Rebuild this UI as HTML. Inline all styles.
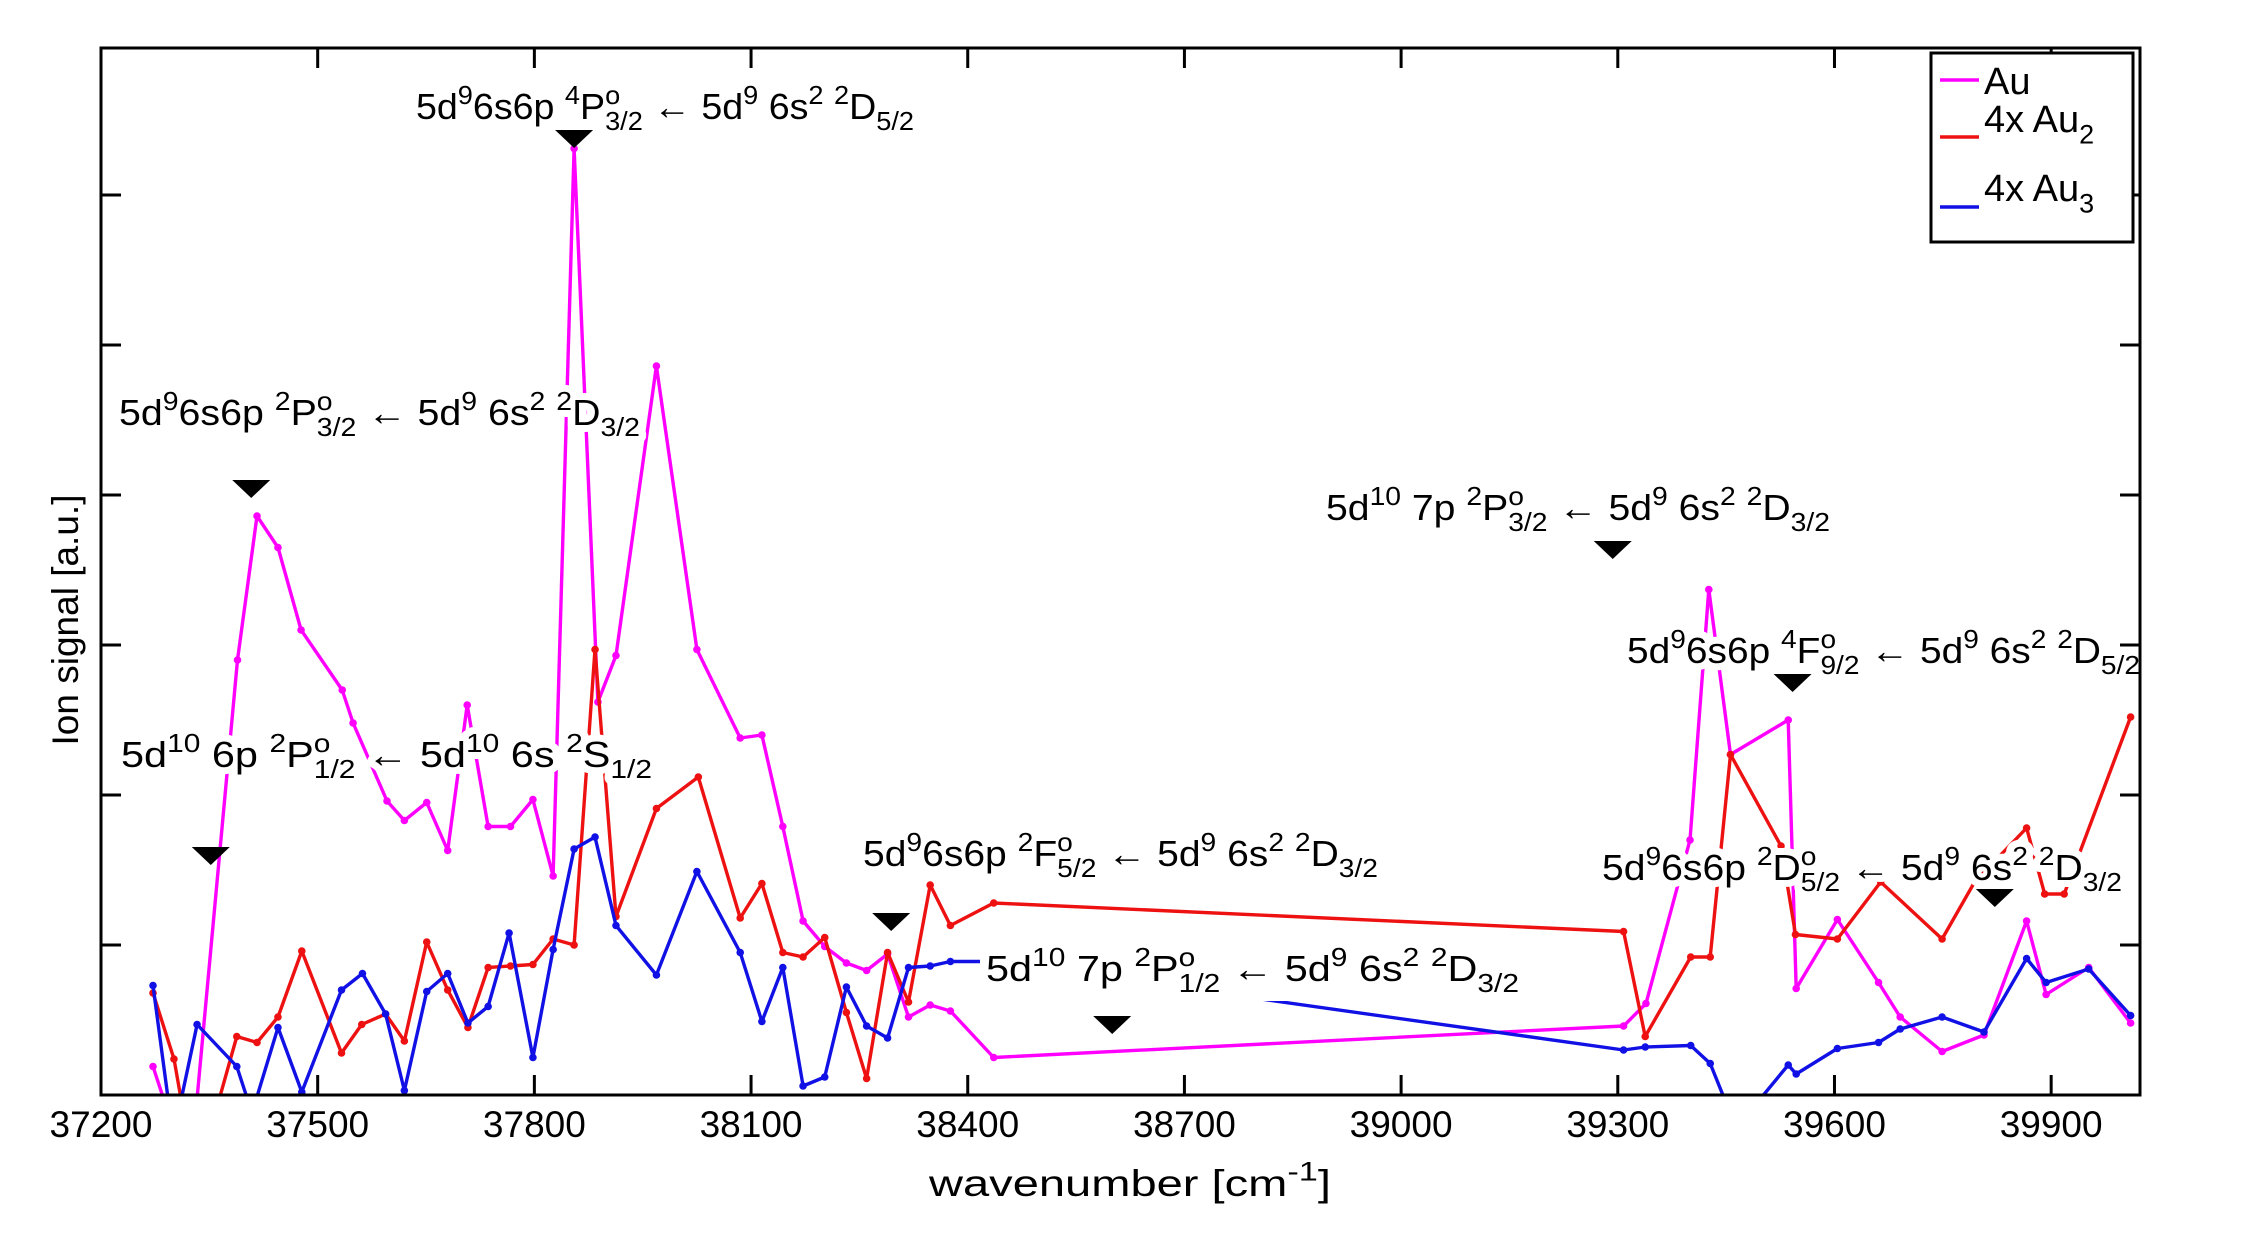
<!DOCTYPE html>
<html><head><meta charset="utf-8">
<style>
html,body{margin:0;padding:0;background:#fff;}
svg{display:block;font-family:"Liberation Sans",Arial,sans-serif;}
</style></head>
<body>
<svg id="chart" width="2259" height="1246" viewBox="0 0 2259 1246" xmlns="http://www.w3.org/2000/svg">
<defs><clipPath id="plotclip"><rect x="101" y="48" width="2039" height="1047"/></clipPath></defs>
<rect width="2259" height="1246" fill="#fff"/>
<g id="series" clip-path="url(#plotclip)"></g>
<g id="annots"></g>
<g id="axes"></g>
<g id="legend"></g>
</svg>
<script>
const xTicks = [37200, 37500, 37800, 38100, 38400, 38700, 39000, 39300, 39600, 39900];
const yTicks = [1, 2, 3, 4, 5, 6];

const auX = [37272,37300,37325,37389,37416,37445,37477,37534,37549,37596,37620,37651,37680,37707,37736,37767,37798,37826,37855,37888,37913,37969,38025,38085,38115,38144,38172,38202,38232,38260,38289,38318,38348,38376,38436,39308,39339,39400,39426,39456,39536,39547,39604,39661,39691,39749,39807,39866,39893,39952,40010];
const auY = [0.19,-0.22,-0.44,2.90,3.86,3.65,3.10,2.70,2.48,1.96,1.83,1.95,1.63,2.60,1.79,1.79,1.97,1.46,6.31,2.62,2.93,4.86,2.97,2.38,2.40,1.79,1.16,0.99,0.88,0.83,0.94,0.52,0.60,0.56,0.25,0.46,0.61,1.70,3.37,2.27,2.50,0.71,1.17,0.75,0.52,0.29,0.40,1.16,0.67,0.85,0.48];

const au2X = [37272,37301,37318,37349,37388,37416,37445,37478,37533,37561,37594,37620,37651,37680,37708,37736,37767,37798,37826,37855,37884,37913,37969,38027,38085,38115,38144,38172,38202,38232,38260,38289,38318,38348,38376,38436,39308,39338,39401,39428,39456,39526,39546,39604,39664,39749,39794,39866,39891,39918,40010];
const au2Y = [0.68,0.24,-0.22,-0.28,0.39,0.35,0.52,0.96,0.28,0.47,0.54,0.36,1.02,0.70,0.45,0.85,0.86,0.87,1.04,1.00,2.97,1.19,1.91,2.12,1.18,1.41,0.95,0.92,1.05,0.55,0.11,0.95,0.62,1.40,1.13,1.28,1.09,0.39,0.92,0.92,2.27,1.66,1.07,1.04,1.42,1.04,1.42,1.78,1.34,1.34,2.52];

const au3X = [37272,37300,37333,37388,37409,37445,37478,37533,37562,37594,37620,37651,37680,37708,37736,37765,37798,37826,37855,37884,37913,37969,38025,38085,38115,38144,38172,38202,38232,38260,38289,38318,38348,38376,38436,39308,39338,39401,39428,39464,39536,39547,39604,39661,39691,39749,39807,39866,39893,39952,40010];
const au3Y = [0.73,-0.28,0.47,0.19,-0.12,0.45,0.02,0.70,0.81,0.54,0.03,0.69,0.81,0.48,0.59,1.08,0.25,0.97,1.64,1.72,1.13,0.80,1.49,0.95,0.49,0.85,0.06,0.12,0.72,0.46,0.38,0.85,0.86,0.89,0.89,0.30,0.32,0.33,0.21,-0.22,0.20,0.14,0.31,0.35,0.44,0.52,0.42,0.91,0.75,0.84,0.53];

const markerX = [37855, 37408, 37352, 38294, 38600, 39293, 39542, 39822];
const markerPy = [139, 489, 856, 922, 1025, 550, 683, 898];

const annText = [
 "5d^{9}6s6p ^{4}P^{o}_{3/2} ← 5d^{9} 6s^{2} ^{2}D_{5/2}",
 "5d^{9}6s6p ^{2}P^{o}_{3/2} ← 5d^{9} 6s^{2} ^{2}D_{3/2}",
 "5d^{10} 6p ^{2}P^{o}_{1/2} ← 5d^{10} 6s ^{2}S_{1/2}",
 "5d^{9}6s6p ^{2}F^{o}_{5/2} ← 5d^{9} 6s^{2} ^{2}D_{3/2}",
 "5d^{10} 7p ^{2}P^{o}_{1/2} ← 5d^{9} 6s^{2} ^{2}D_{3/2}",
 "5d^{10} 7p ^{2}P^{o}_{3/2} ← 5d^{9} 6s^{2} ^{2}D_{3/2}",
 "5d^{9}6s6p ^{4}F^{o}_{9/2} ← 5d^{9} 6s^{2} ^{2}D_{5/2}",
 "5d^{9}6s6p ^{2}D^{o}_{5/2} ← 5d^{9} 6s^{2} ^{2}D_{3/2}"
];
const annPos = [[416,119,498],[119,425,521],[121,767,531],[863,866,515],[986,981,533],[1326,520,504],[1627,663,513],[1602,880,520]];
const annBox = [false,false,false,false,true,false,false,false];

const ns = "http://www.w3.org/2000/svg";
const L = 101, R = 2140, T = 48, B = 1095;
const xMin = 37200, xMax = 40023, yMin = 0, yMax = 6.98;
function sx(v){ return L + (v - xMin) / (xMax - xMin) * (R - L); }
function sy(v){ return B - (v - yMin) / (yMax - yMin) * (B - T); }
function mk(tag, attrs, parent){ const e = document.createElementNS(ns, tag); for (const k in attrs) e.setAttribute(k, attrs[k]); parent.appendChild(e); return e; }

const series = document.getElementById('series');
function drawSeries(xs, ys, color, name){
  const g = mk('g', {}, series);
  
  
  const pts = xs.map((x, i) => sx(x).toFixed(1) + ',' + sy(ys[i]).toFixed(1)).join(' ');
  const pl = mk('polyline', {points: pts, fill: 'none', stroke: color, 'stroke-width': 3.4, 'stroke-linejoin': 'round'}, g);
  
  
  xs.forEach((x, i) => {
    const c = mk('circle', {cx: sx(x), cy: sy(ys[i]), r: 3.8, fill: color}, g);
    
    
  });
}
drawSeries(auX, auY, '#ff00ff', 'au');
drawSeries(au2X, au2Y, '#ee1111', 'au2');
drawSeries(au3X, au3Y, '#1111e6', 'au3');

const annots = document.getElementById('annots');
function richText(parent, str, x, y, w, fs, halo){
  const t = mk('text', {x: x, y: y, 'font-size': fs, fill: '#000'}, parent);
  const toks = str.match(/(\^\{[^}]*\}|_\{[^}]*\}|[^\^_]+)/g);
  let cur = 0, prevType = null, prevLen = 0;
  toks.forEach(tok => {
    let type = 'n', txt = tok;
    if (tok[0] === '^') { type = 'sup'; txt = tok.slice(2, -1); }
    else if (tok[0] === '_') { type = 'sub'; txt = tok.slice(2, -1); }
    const off = type === 'sup' ? -fs * 0.42 : type === 'sub' ? fs * 0.3 : 0;
    const ts = mk('tspan', {dy: off - cur}, t);
    if (type !== 'n') ts.setAttribute('font-size', Math.round(fs * 0.72));
    if (type === 'sub' && prevType === 'sup') ts.setAttribute('dx', -prevLen);
    ts.textContent = txt;
    cur = off;
    prevLen = ts.getComputedTextLength();
    prevType = type;
  });
  if (w) { t.setAttribute('textLength', w); t.setAttribute('lengthAdjust', 'spacingAndGlyphs'); }
  if (halo) {
    const h = t.cloneNode(true);
    h.setAttribute('fill', '#fff');
    h.setAttribute('stroke', '#fff');
    h.setAttribute('stroke-width', 14);
    h.setAttribute('stroke-linejoin', 'round');
    h.setAttribute('aria-hidden', 'true');
    
    
    parent.insertBefore(h, t);
  }
  return t;
}
annText.forEach((s, i) => {
  if (annBox[i]) {
    const bg = mk('rect', {x: annPos[i][0] - 6, y: annPos[i][1] - 40, width: annPos[i][2] + 12, height: 60, fill: '#fff'}, annots);
    
    
  }
  const t = richText(annots, s, annPos[i][0], annPos[i][1], annPos[i][2], 36, true);
  
  
});
markerX.forEach((mx, i) => {
  const cx = sx(mx), cy = markerPy[i];
  const p = mk('polygon', {points: (cx - 19) + ',' + (cy - 9) + ' ' + (cx + 19) + ',' + (cy - 9) + ' ' + cx + ',' + (cy + 9), fill: '#000'}, annots);
  
  
});

const axes = document.getElementById('axes');
const box = mk('rect', {x: L, y: T, width: R - L, height: B - T, fill: 'none', stroke: '#000', 'stroke-width': 3}, axes);


xTicks.forEach(v => {
  const x = sx(v);
  mk('line', {x1: x, y1: B, x2: x, y2: B - 20, stroke: '#000', 'stroke-width': 3}, axes);
  mk('line', {x1: x, y1: T, x2: x, y2: T + 20, stroke: '#000', 'stroke-width': 3}, axes);
  const lb = mk('text', {x: x, y: 1137, 'font-size': 37, 'text-anchor': 'middle', fill: '#000'}, axes);
  lb.textContent = v;
  
  
});
yTicks.forEach(v => {
  const y = sy(v);
  mk('line', {x1: L, y1: y, x2: L + 20, y2: y, stroke: '#000', 'stroke-width': 3}, axes);
  mk('line', {x1: R, y1: y, x2: R - 20, y2: y, stroke: '#000', 'stroke-width': 3}, axes);
});
const xt = richText(axes, "wavenumber [cm^{-1}]", 929, 1196, 402, 37, false);


const yt = mk('text', {x: 0, y: 0, 'font-size': 37, 'text-anchor': 'middle', transform: 'translate(78,620) rotate(-90)', fill: '#000'}, axes);
yt.textContent = 'Ion signal [a.u.]';



const lg = document.getElementById('legend');
const lr = mk('rect', {x: 1931, y: 53, width: 202, height: 189, fill: '#fff', stroke: '#000', 'stroke-width': 3}, lg);


const legC = ['#ff00ff', '#ee1111', '#1111e6'];
const legS = ['Au', '4x Au_{2}', '4x Au_{3}'];
const legY = [80, 137, 207];
const legTY = [94, 132, 201];
legS.forEach((s, i) => {
  const ln = mk('line', {x1: 1940, y1: legY[i], x2: 1979, y2: legY[i], stroke: legC[i], 'stroke-width': 3.4}, lg);
  
  
  const t = richText(lg, s, 1984, legTY[i], null, 38, false);
  
  
});
</script>
</body></html>
